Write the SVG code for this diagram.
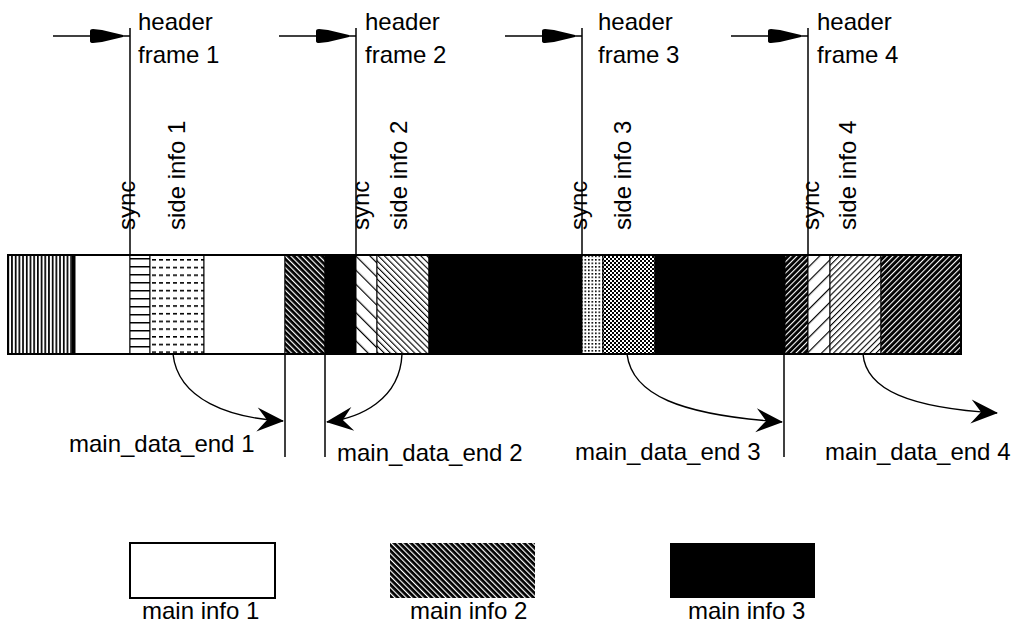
<svg xmlns="http://www.w3.org/2000/svg" xmlns:xlink="http://www.w3.org/1999/xlink" width="1022" height="625" viewBox="0 0 1022 625">
<style>
text{font-family:"Liberation Sans",Arial,sans-serif;font-size:24px;fill:#000}
.ln{stroke:#000;stroke-width:1.5;fill:none}
.seg{stroke:#000;stroke-width:1}
.crv{stroke:#000;stroke-width:1.4;fill:none;marker-end:url(#barb)}
</style>
<defs>
<pattern id="pVert" width="3.7" height="10" patternUnits="userSpaceOnUse"><rect width="3.7" height="10" fill="#fff"/><rect width="1.7" height="10" fill="#000"/></pattern>
<pattern id="pHoriz" width="20" height="8" patternUnits="userSpaceOnUse" y="258"><rect width="20" height="8" fill="#fff"/><rect width="20" height="1.5" fill="#000"/></pattern>
<pattern id="pDash" width="7" height="7.7" patternUnits="userSpaceOnUse" x="152" y="259"><rect width="7" height="7.7" fill="#fff"/><rect width="4" height="1.6" fill="#000"/></pattern>
<pattern id="pBlkBack" width="4" height="4" patternUnits="userSpaceOnUse" patternTransform="rotate(-45)"><rect width="4" height="4" fill="#000"/><rect width="1.2" height="4" fill="#fff"/></pattern>
<pattern id="pBlkFwd" width="4" height="4" patternUnits="userSpaceOnUse" patternTransform="rotate(45)"><rect width="4" height="4" fill="#000"/><rect width="1.1" height="4" fill="#fff"/></pattern>
<pattern id="pWhtBackSparse" width="10" height="4" patternUnits="userSpaceOnUse" patternTransform="rotate(-45)"><rect width="10" height="4" fill="#fff"/><rect width="1.2" height="4" fill="#000"/></pattern>
<pattern id="pWhtBack" width="4.3" height="4" patternUnits="userSpaceOnUse" patternTransform="rotate(-45)"><rect width="4.3" height="4" fill="#fff"/><rect width="1.1" height="4" fill="#000"/></pattern>
<pattern id="pWhtFwdSparse" width="10" height="4" patternUnits="userSpaceOnUse" patternTransform="rotate(45)"><rect width="10" height="4" fill="#fff"/><rect width="1.2" height="4" fill="#000"/></pattern>
<pattern id="pWhtFwd" width="4.3" height="4" patternUnits="userSpaceOnUse" patternTransform="rotate(45)"><rect width="4.3" height="4" fill="#fff"/><rect width="1.1" height="4" fill="#000"/></pattern>
<pattern id="pDots" width="3.5" height="3.5" patternUnits="userSpaceOnUse"><rect width="3.5" height="3.5" fill="#fff"/><rect width="1.6" height="1.6" fill="#000"/></pattern>
<pattern id="pCheck" width="4" height="4" patternUnits="userSpaceOnUse"><rect width="4" height="4" fill="#fff"/><rect width="2" height="2" fill="#000"/><rect x="2" y="2" width="2" height="2" fill="#000"/></pattern>
<path id="hdrHead" d="M0,-5 Q0,-7 3,-7 L12,-6 L33,-1 L33,1 L12,6 L3,7 Q0,7 0,5 Z" fill="#000"/>
<marker id="barb" markerUnits="userSpaceOnUse" markerWidth="40" markerHeight="30" refX="0" refY="0" viewBox="-30 -15 40 30" orient="auto" overflow="visible">
<path d="M1,0 L-26,-12 L-16,0 L-26,12 Z" fill="#000"/>
</marker>
</defs>

<g id="bitstream">
<rect class="seg" x="8" y="255" width="67" height="99" fill="url(#pVert)"/>
<rect x="72" y="255" width="3" height="99" fill="#000"/>
<rect class="seg" x="75" y="255" width="55" height="99" fill="#fff"/>
<rect class="seg" x="130" y="255" width="20" height="99" fill="url(#pHoriz)"/>
<rect class="seg" x="150" y="255" width="54" height="99" fill="url(#pDash)"/>
<rect class="seg" x="204" y="255" width="81" height="99" fill="#fff"/>
<rect class="seg" x="285" y="255" width="40" height="99" fill="url(#pBlkBack)"/>
<rect class="seg" x="325" y="255" width="31" height="99" fill="#000"/>
<rect class="seg" x="356" y="255" width="21" height="99" fill="url(#pWhtBackSparse)"/>
<rect class="seg" x="377" y="255" width="52" height="99" fill="url(#pWhtBack)"/>
<rect class="seg" x="429" y="255" width="153" height="99" fill="#000"/>
<rect class="seg" x="582" y="255" width="21" height="99" fill="url(#pDots)"/>
<rect class="seg" x="603" y="255" width="52" height="99" fill="url(#pCheck)"/>
<rect class="seg" x="655" y="255" width="130" height="99" fill="#000"/>
<rect class="seg" x="785" y="255" width="23" height="99" fill="url(#pBlkFwd)"/>
<rect class="seg" x="808" y="255" width="22" height="99" fill="url(#pWhtFwdSparse)"/>
<rect class="seg" x="830" y="255" width="51" height="99" fill="url(#pWhtFwd)"/>
<rect class="seg" x="881" y="255" width="80" height="99" fill="url(#pBlkFwd)"/>
<rect x="8" y="255" width="953" height="99" fill="none" stroke="#000" stroke-width="2"/>
</g>

<g id="frame1">
<line class="ln" x1="130" y1="28" x2="130" y2="255"/>
<line class="ln" x1="53" y1="36" x2="130" y2="36"/>
<use xlink:href="#hdrHead" x="90" y="36"/>
<text x="138" y="30">header</text>
<text x="138" y="63">frame 1</text>
<text transform="translate(135,230) rotate(-90)">sync</text>
<text transform="translate(185,230) rotate(-90)">side info 1</text>
</g>
<g id="frame2">
<line class="ln" x1="356" y1="28" x2="356" y2="255"/>
<line class="ln" x1="279" y1="36" x2="356" y2="36"/>
<use xlink:href="#hdrHead" x="316" y="36"/>
<text x="365" y="30">header</text>
<text x="365" y="63">frame 2</text>
<text transform="translate(369,230) rotate(-90)">sync</text>
<text transform="translate(407,230) rotate(-90)">side info 2</text>
</g>
<g id="frame3">
<line class="ln" x1="582" y1="28" x2="582" y2="255"/>
<line class="ln" x1="505" y1="36" x2="582" y2="36"/>
<use xlink:href="#hdrHead" x="542" y="36"/>
<text x="598" y="30">header</text>
<text x="598" y="63">frame 3</text>
<text transform="translate(587,230) rotate(-90)">sync</text>
<text transform="translate(631,230) rotate(-90)">side info 3</text>
</g>
<g id="frame4">
<line class="ln" x1="808" y1="28" x2="808" y2="255"/>
<line class="ln" x1="731" y1="36" x2="808" y2="36"/>
<use xlink:href="#hdrHead" x="768" y="36"/>
<text x="817" y="30">header</text>
<text x="817" y="63">frame 4</text>
<text transform="translate(819,230) rotate(-90)">sync</text>
<text transform="translate(856,230) rotate(-90)">side info 4</text>
</g>

<g id="connectors">
<line class="ln" x1="285" y1="354" x2="285" y2="457"/>
<line class="ln" x1="325" y1="354" x2="325" y2="457"/>
<line class="ln" x1="784" y1="354" x2="784" y2="457"/>
<path class="crv" d="M173,354 C178,400 230,418 283,421"/>
<path class="crv" d="M402,354 C400,400 360,418 327,422"/>
<path class="crv" d="M627,354 C632,395 680,415 782,422"/>
<path class="crv" d="M863,354 C866,390 910,408 997,413"/>
</g>

<g id="end-labels">
<text x="69" y="452">main_data_end 1</text>
<text x="337" y="461">main_data_end 2</text>
<text x="575" y="460">main_data_end 3</text>
<text x="825" y="460">main_data_end 4</text>
</g>

<g id="legend1">
<rect x="130" y="543" width="145" height="55" fill="#fff" stroke="#000" stroke-width="2"/>
<text x="142" y="619">main info 1</text>
</g>
<g id="legend2">
<rect x="390" y="543" width="145" height="55" fill="url(#pBlkBack)"/>
<text x="410" y="619">main info 2</text>
</g>
<g id="legend3">
<rect x="670" y="543" width="145" height="55" fill="#000"/>
<text x="688" y="619">main info 3</text>
</g>
</svg>
